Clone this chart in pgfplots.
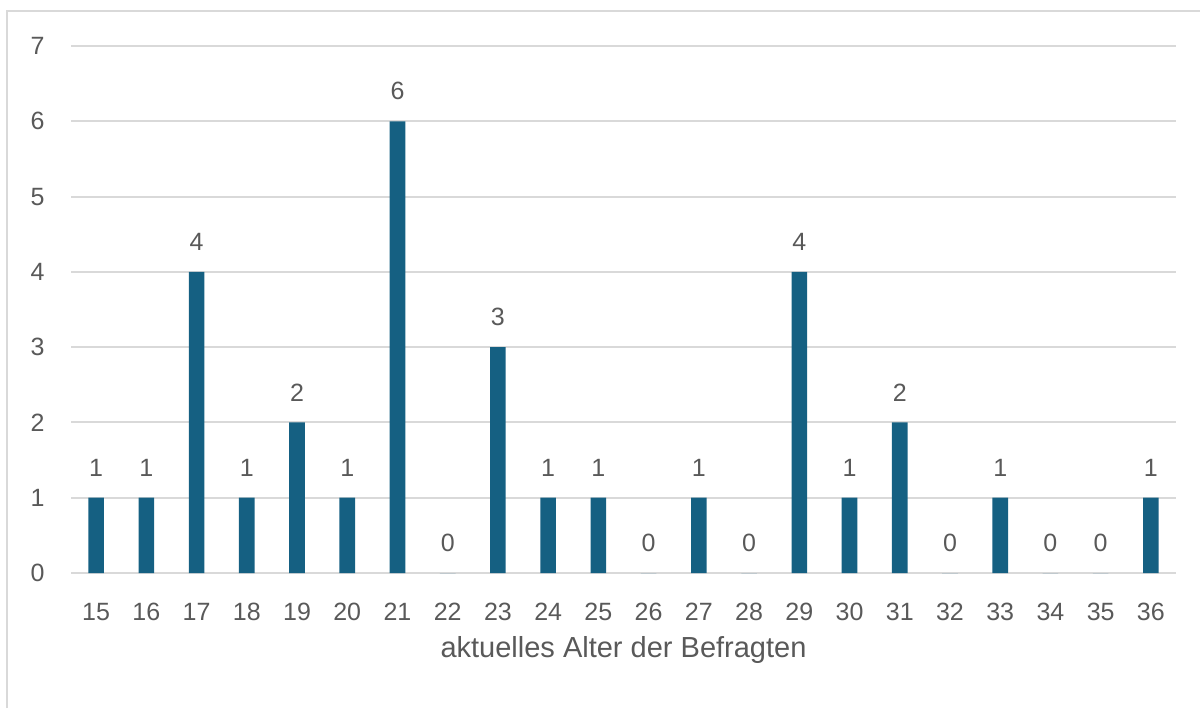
\documentclass[border=0pt]{standalone}
\usepackage{fontspec}
\setmainfont{Liberation Sans}
\usepackage{pgfplots}
\pgfplotsset{compat=1.18}
\definecolor{barblue}{HTML}{156082}
\definecolor{gridgray}{HTML}{D9D9D9}
\definecolor{txtgray}{HTML}{595959}
\begin{document}
\begin{tikzpicture}
\useasboundingbox (0,0) rectangle (600pt,354pt);
\draw[gridgray, line width=1pt] (3.5pt,0) -- (3.5pt,348.5pt) -- (600pt,348.5pt);
\begin{axis}[
  at={(35.5pt,67.5pt)}, anchor=south west,
  scale only axis, width=552.5pt, height=263.5pt,
  ybar, bar width=7.8pt, bar shift=0pt,
  xmin=-0.5, xmax=21.5, ymin=0, ymax=7,
  xtick={0,...,21},
  xticklabels={15,16,17,18,19,20,21,22,23,24,25,26,27,28,29,30,31,32,33,34,35,36},
  ytick={0,...,7},
  axis x line*=bottom, axis y line*=left,
  x axis line style={gridgray, line width=1pt, -},
  y axis line style={draw=none},
  ymajorgrids, grid style={gridgray, line width=1pt},
  major tick length=0pt,
  tick label style={font=\fontsize{12.5}{14}\selectfont, text=txtgray},
  /pgf/number format/assume math mode=true,
  yticklabel style={anchor=east, inner sep=0pt, xshift=-13pt},
  xticklabel style={anchor=base, inner sep=0pt, yshift=-23.5pt},
  xlabel={aktuelles Alter der Befragten},
  xlabel style={at={(axis description cs:0.5,0)}, anchor=base, inner sep=0pt, yshift=-42pt, font=\fontsize{14.5}{16}\selectfont, text=txtgray},
  nodes near coords,
  every node near coord/.append style={font=\fontsize{12.5}{14}\selectfont, text=txtgray, anchor=south, inner sep=0pt, yshift=10.5pt},
  clip=false,
]
\addplot[fill=barblue, draw=none] coordinates {
(0,1) (1,1) (2,4) (3,1) (4,2) (5,1) (6,6) (7,0) (8,3) (9,1) (10,1)
(11,0) (12,1) (13,0) (14,4) (15,1) (16,2) (17,0) (18,1) (19,0) (20,0) (21,1)
};
\end{axis}
\end{tikzpicture}
\end{document}
